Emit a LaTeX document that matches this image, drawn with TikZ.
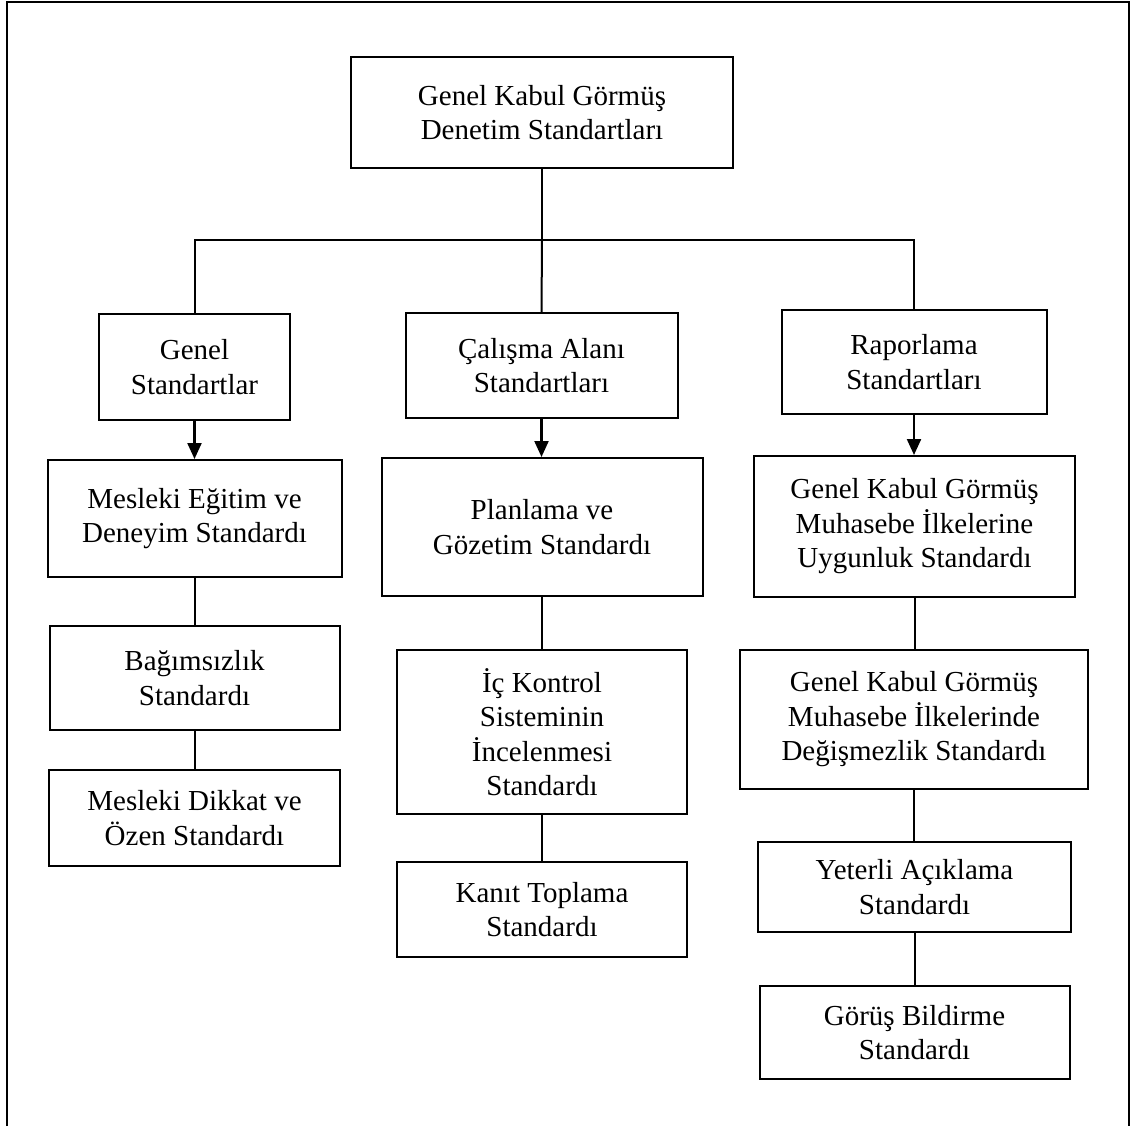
\documentclass[tikz,border=0pt]{standalone}
\usepackage{fontspec}
\setmainfont{Liberation Serif}
\usetikzlibrary{arrows.meta}
\begin{document}
\begin{tikzpicture}[x=1pt,y=-1pt,
  box/.style={draw, line width=2pt, rectangle, inner sep=0pt, align=center,
    font=\fontsize{29pt}{34.5pt}\selectfont},
  link/.style={line width=2pt},
  arr/.style={line width=2.2pt, -{Triangle[width=14pt,length=16pt]}},
  frame/.style={line width=2.6pt}]
\useasboundingbox (0,0) rectangle (1134,1126);
\draw[frame] (7,1126) -- (7,2) -- (1129,2) -- (1129,1126);

% top level
\node[box, minimum width=382pt, minimum height=111pt] (top) at (542,112.5)
  {Genel Kabul Görmüş\\Denetim Standartları};

% second level
\node[box, minimum width=191pt, minimum height=106pt] (gen) at (194.5,367)
  {Genel\\Standartlar};
\node[box, minimum width=272pt, minimum height=105pt] (cal) at (541.5,365.5)
  {Çalışma Alanı\\Standartları};
\node[box, minimum width=265pt, minimum height=104pt] (rap) at (914,362)
  {Raporlama\\Standartları};

% general standards
\node[box, minimum width=294pt, minimum height=117pt] (me) at (194.5,518.5)
  {Mesleki Eğitim ve\\Deneyim Standardı};
\node[box, minimum width=290pt, minimum height=104pt] (bag) at (194.5,678)
  {Bağımsızlık\\Standardı};
\node[box, minimum width=291pt, minimum height=96pt] (md) at (194.5,818)
  {Mesleki Dikkat ve\\Özen Standardı};

% field work standards
\node[box, minimum width=321pt, minimum height=138pt] (plan) at (542,527)
  {Planlama ve\\Gözetim Standardı};
\node[box, minimum width=290pt, minimum height=164pt] (ic) at (542,732)
  {İç Kontrol\\Sisteminin\\İncelenmesi\\Standardı};
\node[box, minimum width=290pt, minimum height=95pt] (kan) at (542,909.5)
  {Kanıt Toplama\\Standardı};

% reporting standards
\node[box, minimum width=321pt, minimum height=141pt] (mu1) at (914.5,526.5)
  {Genel Kabul Görmüş\\Muhasebe İlkelerine\\Uygunluk Standardı};
\node[box, minimum width=348pt, minimum height=139pt] (mu2) at (914,719.5)
  {Genel Kabul Görmüş\\Muhasebe İlkelerinde\\Değişmezlik Standardı};
\node[box, minimum width=313pt, minimum height=90pt] (yet) at (914.5,887)
  {Yeterli Açıklama\\Standardı};
\node[box, minimum width=310pt, minimum height=93pt] (gor) at (914.5,1032.5)
  {Görüş Bildirme\\Standardı};

% branching connectors
\coordinate (hub) at (542,240);
\draw[link] (top.south) -- (hub);
\draw[link] (gen.north) |- (hub);
\draw[link] (hub) -| (rap.north);
\draw[link] (hub) -- (cal.north);

% arrows into each column
\draw[arr] (gen.south) -- (gen.south |- me.north);
\draw[arr] (cal.south) -- (cal.south |- plan.north);
\draw[arr] (rap.south) -- (rap.south |- mu1.north);

% column links
\draw[link] (me.south) -- (me.south |- bag.north);
\draw[link] (bag.south) -- (bag.south |- md.north);
\draw[link] (plan.south) -- (plan.south |- ic.north);
\draw[link] (ic.south) -- (ic.south |- kan.north);
\draw[link] (mu1.south) -- (mu1.south |- mu2.north);
\draw[link] (mu2.south) -- (mu2.south |- yet.north);
\draw[link] (yet.south) -- (yet.south |- gor.north);
\end{tikzpicture}
\end{document}
